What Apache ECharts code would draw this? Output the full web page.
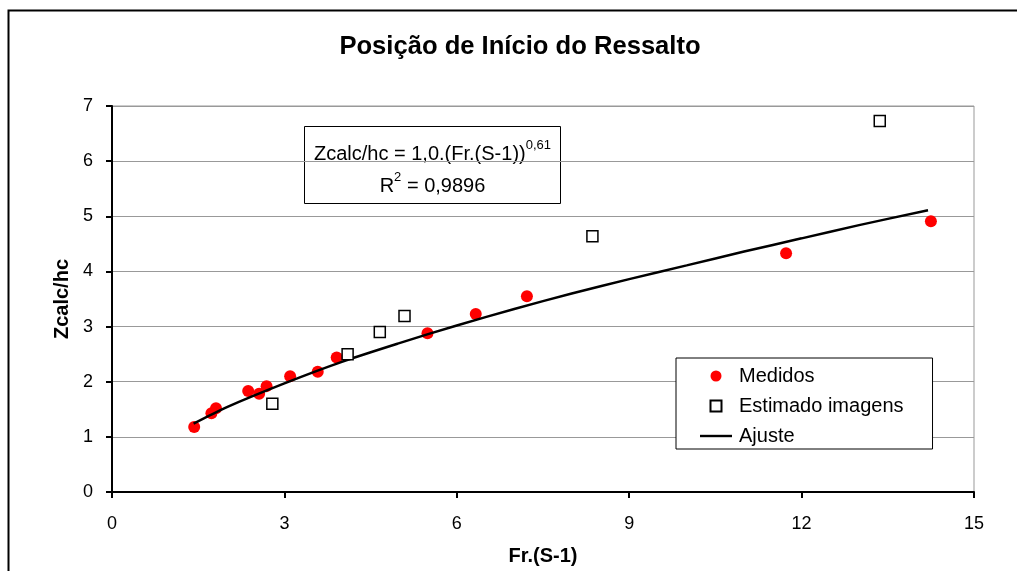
<!DOCTYPE html>
<html>
<head>
<meta charset="utf-8">
<script src="https://cdn.jsdelivr.net/npm/echarts@6/dist/echarts.min.js"></script>
<style>
html,body{margin:0;padding:0;background:#fff;}
#chart{width:1017px;height:571px;}
</style>
</head>
<body>
<div id="chart"></div>
<script>
// ---- data ----
var titleText = 'Posição de Início do Ressalto';
var xName = 'Fr.(S-1)';
var yName = 'Zcalc/hc';
var medidosX = [1.43, 1.73, 1.81, 2.37, 2.56, 2.69, 3.10, 3.58, 3.91, 5.49, 6.33, 7.22, 11.73, 14.25];
var medidosY = [1.18, 1.43, 1.52, 1.83, 1.78, 1.92, 2.10, 2.18, 2.44, 2.88, 3.23, 3.55, 4.33, 4.91];
var estimadoX = [2.79, 4.10, 4.66, 5.09, 8.36, 13.36];
var estimadoY = [1.60, 2.50, 2.90, 3.19, 4.64, 6.73];
var ajusteX = [1.42, 2, 3, 4, 5, 6, 7, 8, 9, 10, 11, 12, 13, 14.2];
var ajusteY = [1.24, 1.54, 1.97, 2.36, 2.70, 3.02, 3.32, 3.60, 3.86, 4.11, 4.36, 4.60, 4.84, 5.11];
var xTicks = {min: 0, max: 15, interval: 3};
var yTicks = {min: 0, max: 7, interval: 1};
var eqMain = 'Zcalc/hc = 1,0.(Fr.(S-1))';
var eqExp = '0,61';
var r2Label = 'R';
var r2Value = ' = 0,9896';

function pairs(xs, ys) { return xs.map(function (x, i) { return [x, ys[i]]; }); }

var FONT = '"Liberation Sans", Arial, sans-serif';
var chart = echarts.init(document.getElementById('chart'), null, {renderer: 'canvas'});
chart.setOption({
  animation: false,
  backgroundColor: '#fff',
  title: {
    text: titleText, left: 515, top: 29, textAlign: 'center',
    textStyle: {fontFamily: FONT, fontSize: 25.6, fontWeight: 'bold', color: '#000'}
  },
  grid: {left: 112, right: 43, top: 106, bottom: 79, show: true, borderColor: '#999', borderWidth: 1, backgroundColor: 'transparent'},
  xAxis: {
    type: 'value', min: xTicks.min, max: xTicks.max, interval: xTicks.interval,
    name: xName, nameLocation: 'middle', nameGap: 54,
    nameTextStyle: {fontFamily: FONT, fontSize: 20, fontWeight: 'bold', color: '#000'},
    axisLine: {show: true, onZero: false, lineStyle: {color: '#000', width: 2}},
    axisTick: {show: true, length: 6, lineStyle: {color: '#000', width: 2}},
    axisLabel: {fontFamily: FONT, fontSize: 18, color: '#000', margin: 23},
    splitLine: {show: false}
  },
  yAxis: {
    type: 'value', min: yTicks.min, max: yTicks.max, interval: yTicks.interval,
    name: yName, nameLocation: 'middle', nameGap: 40, nameRotate: 90,
    nameTextStyle: {fontFamily: FONT, fontSize: 20, fontWeight: 'bold', color: '#000'},
    axisLine: {show: true, onZero: false, lineStyle: {color: '#000', width: 2}},
    axisTick: {show: true, length: 6, lineStyle: {color: '#000', width: 2}},
    axisLabel: {fontFamily: FONT, fontSize: 18, color: '#000', margin: 19},
    splitLine: {show: true, lineStyle: {color: '#999', width: 1}}
  },
  legend: {
    orient: 'vertical', left: 676, top: 358,
    padding: [8, 29, 3, 24],
    itemWidth: 32, itemHeight: 11, itemGap: 10,
    symbolKeepAspect: true,
    backgroundColor: '#fff', borderColor: '#000', borderWidth: 1, borderRadius: 0,
    textStyle: {fontFamily: FONT, fontSize: 20, color: '#000', padding: [0, 0, 0, 2]},
    data: [
      {name: 'Medidos', icon: 'circle'},
      {name: 'Estimado imagens', icon: 'path://M0,0h10v10h-10z'},
      {name: 'Ajuste', icon: 'path://M0,0h32v2.4h-32z'}
    ]
  },
  series: [
    {
      name: 'Ajuste', type: 'line', data: pairs(ajusteX, ajusteY),
      symbol: 'none', smooth: 0.3, z: 3,
      lineStyle: {color: '#000', width: 2.5}, itemStyle: {color: '#000'}
    },
    {
      name: 'Medidos', type: 'scatter', data: pairs(medidosX, medidosY),
      symbol: 'circle', symbolSize: 12, z: 2,
      itemStyle: {color: '#ff0000', opacity: 1}
    },
    {
      name: 'Estimado imagens', type: 'scatter', data: pairs(estimadoX, estimadoY),
      symbol: 'rect', symbolSize: 11, z: 4,
      itemStyle: {color: '#fff', borderColor: '#000', borderWidth: 1.5, opacity: 1}
    }
  ],
  graphic: [
    {
      type: 'rect', left: 6, top: 8, z: 100, silent: true,
      shape: {width: 1010, height: 600},
      style: {fill: 'none', stroke: '#000', lineWidth: 2}
    },
    {
      type: 'group', left: 304, top: 126, z: 50,
      children: [
        {type: 'rect', shape: {x: 0, y: 0, width: 256, height: 77}, style: {fill: '#fff', stroke: '#000', lineWidth: 1}},
        {
          type: 'text', x: 128, y: 25,
          style: {
            text: '{m|' + eqMain + '}{s|' + eqExp + '}',
            align: 'center', verticalAlign: 'middle',
            rich: {
              m: {fontFamily: FONT, fontSize: 20, color: '#000', lineHeight: 26, verticalAlign: 'bottom'},
              s: {fontFamily: FONT, fontSize: 13, color: '#000', lineHeight: 26, verticalAlign: 'top'}
            }
          }
        },
        {
          type: 'text', x: 128, y: 57,
          style: {
            text: '{m|' + r2Label + '}{s|2}{m|' + r2Value + '}',
            align: 'center', verticalAlign: 'middle',
            rich: {
              m: {fontFamily: FONT, fontSize: 20, color: '#000', lineHeight: 26, verticalAlign: 'bottom'},
              s: {fontFamily: FONT, fontSize: 13, color: '#000', lineHeight: 26, verticalAlign: 'top'}
            }
          }
        }
      ]
    }
  ]
});
</script>
</body>
</html>
